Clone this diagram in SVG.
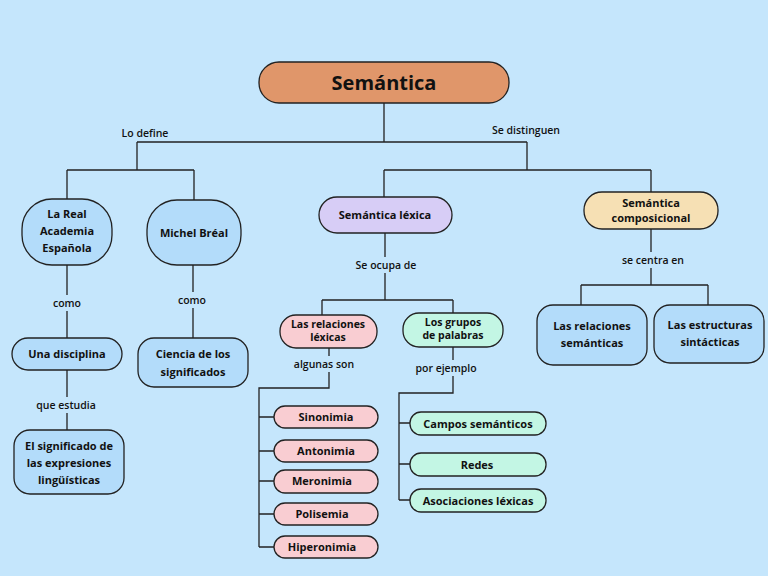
<svg xmlns="http://www.w3.org/2000/svg" width="768" height="576" viewBox="0 0 768 576">
<style>
.n{stroke:#222;stroke-width:1.3}
.b{fill:#b3dcfa}.p{fill:#f9cdd2}.m{fill:#c3f6e4}
text{font-family:"Open Sans","Liberation Sans",sans-serif;font-weight:bold;font-size:11px;fill:#111;text-anchor:middle}
.s{font-size:10.5px}
.l{font-size:10.5px;font-weight:600}
.c{fill:none;stroke:#222;stroke-width:1.3}
.lb{fill:#c5e6fc}
</style>
<rect width="768" height="576" fill="#c5e6fc"/>
<g id="connectors">
<path class="c" d="M384 103V142M137 142H527M137 142V170M67 170H194M67 170V199M194 170V200M527 142V170M384 170H651M384 170V197M651 170V192"/>
<path class="c" d="M67 265V338M67 370V430M193 265V338"/>
<path class="c" d="M385 233V300M322 300H453M322 300V315M453 300V313"/>
<path class="c" d="M329 348V388H259V547M259 417H274M259 451H274M259 481H274M259 514H274M259 547H274"/>
<path class="c" d="M453 347V393H399V500M399 423H410M399 464H410M399 500H410"/>
<path class="c" d="M651 229V285M581 285H708M581 285V305M708 285V305"/>
<rect class="lb" x="48" y="295" width="38" height="16"/>
<rect class="lb" x="30" y="397" width="72" height="16"/>
<rect class="lb" x="172" y="292" width="40" height="16"/>
<rect class="lb" x="350" y="257" width="72" height="16"/>
<rect class="lb" x="288" y="356" width="72" height="16"/>
<rect class="lb" x="410" y="360" width="72" height="16"/>
<rect class="lb" x="614" y="252" width="76" height="16"/>
<text class="l" x="145" y="137">Lo define</text>
<text class="l" x="526" y="134">Se distinguen</text>
<text class="l" x="67" y="307">como</text>
<text class="l" x="66" y="409">que estudia</text>
<text class="l" x="192" y="304">como</text>
<text class="l" x="386" y="269">Se ocupa de</text>
<text class="l" x="324" y="368">algunas son</text>
<text class="l" x="446" y="372">por ejemplo</text>
<text class="l" x="653" y="264">se centra en</text>
</g>
<g id="title"><rect class="n" x="259" y="62" width="250" height="41" rx="20" fill="#e0966a" stroke-width="1.5"/><text x="384" y="90" style="font-size:20px">Semántica</text></g>
<g id="rae"><rect class="n b" x="22" y="199" width="90" height="66" rx="30"/><text x="67" y="218">La Real</text><text x="67" y="235">Academia</text><text x="67" y="252">Española</text></g>
<g id="breal"><rect class="n b" x="147" y="200" width="94" height="65" rx="30"/><text x="194" y="237">Michel Bréal</text></g>
<g id="lexica"><rect class="n" x="319" y="197" width="133" height="36" rx="18" fill="#d7cdf6"/><text x="385" y="219">Semántica léxica</text></g>
<g id="compos"><rect class="n" x="584" y="192" width="134" height="37" rx="18" fill="#f6e0b4"/><text x="651" y="207">Semántica</text><text x="651" y="222">composicional</text></g>
<g id="disciplina"><rect class="n b" x="12" y="338" width="110" height="32" rx="16"/><text x="67" y="358">Una disciplina</text></g>
<g id="significado"><rect class="n b" x="14" y="430" width="110" height="64" rx="16"/><text x="69" y="450">El significado de</text><text x="69" y="467">las expresiones</text><text x="69" y="484">lingüísticas</text></g>
<g id="ciencia"><rect class="n b" x="138" y="338" width="110" height="49" rx="16"/><text x="193" y="358">Ciencia de los</text><text x="193" y="376">significados</text></g>
<g id="relaciones"><rect class="n p" x="280" y="315" width="97" height="33" rx="16"/><text class="s" x="328" y="327.5">Las relaciones</text><text class="s" x="328" y="341">léxicas</text></g>
<g id="grupos"><rect class="n m" x="403" y="313" width="100" height="34" rx="16"/><text class="s" x="453" y="325.5">Los grupos</text><text class="s" x="453" y="339">de palabras</text></g>
<g id="sinonimia"><rect class="n p" x="274" y="406" width="104" height="22" rx="11"/><text x="326" y="421">Sinonimia</text></g>
<g id="antonimia"><rect class="n p" x="274" y="440" width="104" height="22" rx="11"/><text x="326" y="455">Antonimia</text></g>
<g id="meronimia"><rect class="n p" x="274" y="470" width="104" height="23" rx="11"/><text x="322" y="485">Meronimia</text></g>
<g id="polisemia"><rect class="n p" x="274" y="503" width="104" height="22" rx="11"/><text x="322" y="518">Polisemia</text></g>
<g id="hiperonimia"><rect class="n p" x="274" y="536" width="104" height="22" rx="11"/><text x="322" y="551">Hiperonimia</text></g>
<g id="campos"><rect class="n m" x="410" y="412" width="136" height="23" rx="11"/><text x="478" y="428">Campos semánticos</text></g>
<g id="redes"><rect class="n m" x="410" y="453" width="136" height="23" rx="11"/><text x="477" y="469">Redes</text></g>
<g id="asociaciones"><rect class="n m" x="410" y="489" width="136" height="23" rx="11"/><text x="478" y="505">Asociaciones léxicas</text></g>
<g id="relsem"><rect class="n b" x="537" y="305" width="110" height="60" rx="16"/><text x="592" y="330">Las relaciones</text><text x="592" y="347">semánticas</text></g>
<g id="estructuras"><rect class="n b" x="654" y="305" width="110" height="58" rx="16"/><text x="710" y="329">Las estructuras</text><text x="710" y="346">sintácticas</text></g>
</svg>
